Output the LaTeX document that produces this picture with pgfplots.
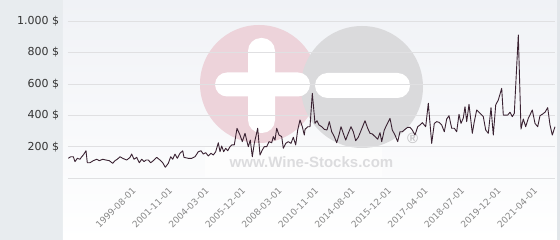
\documentclass[border=0pt]{standalone}
\usepackage{pgfplots}
\pgfplotsset{compat=1.18}
\usepackage{fontspec}
\setmainfont{DejaVu Sans}
\newfontfamily\wmfont{Liberation Sans}
\definecolor{leftbg}{HTML}{E8ECEF}
\definecolor{bgtop}{HTML}{F0F2F6}
\definecolor{bgbot}{HTML}{FFFFFF}
\definecolor{rightbd}{HTML}{E2E6EA}
\definecolor{gridc}{HTML}{E0E0E2}
\definecolor{wmpink}{HTML}{EDD3DA}
\definecolor{wmgray}{HTML}{DADADC}
\definecolor{wmtext}{HTML}{DCDCDE}
\definecolor{linec}{HTML}{3A2232}
\definecolor{ylab}{HTML}{333333}
\definecolor{xlab}{HTML}{888888}
\pgfplotstableread{
x y
68.3 127
70.7 137
73.3 137
75 106
77.3 127
80 121
81.7 137
83.3 148
86 175
87.3 99
90 99
93.3 112
96.7 121
99.3 112
102.7 121
106 116
109.3 112
112.7 95
115 112
117.3 121
120 137
122.7 127
126.7 116
130 133
131.7 154
134 121
136.7 133
139.3 99
141.7 121
144 106
146 116
148.3 116
150.7 99
153.3 112
156.7 133
160 116
162.7 99
165.3 70
168.3 95
170.7 137
172.7 121
175 154
177.3 127
180 159
182.7 175
184 133
188.3 127
191.7 127
195 137
198.3 169
201 175
203.3 154
205.7 163
208.3 142
211 159
213.3 148
215.7 169
218.3 226
220 169
221.7 205
223.7 169
225.7 191
227.7 175
230 201
231.7 212
234.3 212
237 318
240 275
242.3 233
245 286
248.3 201
250.3 243
252.3 137
254.3 222
257.7 318
260 148
262.3 180
264.3 201
266.7 201
269 233
271.7 226
273.3 265
275 243
276.7 318
279 275
281.7 265
283.3 191
285.7 222
288.3 233
291 222
293.3 261
295.7 212
297.7 307
300 371
302.3 328
304.3 275
305 311
307.7 328
310 328
312.3 540
315 349
317 366
319 339
321.7 328
324.3 311
327 307
329.3 360
331.7 296
334.3 265
336.7 226
339 275
341 328
343.3 286
345.7 243
348.3 286
351 328
353.3 296
355.7 239
358.3 261
361 303
365 366
367.7 318
370 286
372.3 282
375 265
377.7 248
380 290
381.7 233
384.3 307
386.7 339
390 381
392.3 307
395 275
397.7 233
400 296
402.3 296
405 311
407.7 324
410 324
412.3 307
415 275
417.7 328
420 339
422.3 354
425.7 328
428.3 477
431.7 222
434.3 349
436.7 360
439 356
441.7 339
444.3 296
446.7 377
449 398
451.7 318
454.3 318
456.7 296
459 407
461 349
463.3 383
465 455
466.7 360
469 470
471 360
472.3 286
474.3 360
476.7 434
479 420
481 407
483.3 392
485.7 307
488.3 286
491 449
493.3 275
495.7 466
498.3 498
501.7 572
503.3 402
507.7 402
510 420
512.3 392
514.3 413
518.3 911
521 313
523.3 377
525.7 328
528.3 381
532.3 434
535 349
537.7 328
540 398
542.3 407
545 420
547.7 449
550 339
552.3 275
555 328
}\wine
\begin{document}
\begin{tikzpicture}
% backgrounds (image px -> (X-68, 178.3-Y))
\fill[leftbg] (-68pt,-61.7pt) rectangle (-5pt,178.3pt);
\shade[top color=bgtop, bottom color=bgbot] (-5pt,-61.7pt) rectangle (489pt,178.3pt);
\fill[rightbd] (489pt,-61.7pt) rectangle (492pt,178.3pt);
% watermark
\begin{scope}[x=1pt,y=-1pt,shift={(-68pt,178.3pt)}]
\fill[white,opacity=0.6] (205,147) rectangle (382,177);
\fill[wmpink] (259,84) circle (59);
\fill[wmgray] (362,87) circle (61);
\fill[white,rounded corners=12pt] (215,72.5) rectangle (310,96.5);
\fill[white,rounded corners=13pt] (248,38) rectangle (275,133);
\fill[white,rounded corners=12.5pt] (315,73) rectangle (410,98);
\node[text=wmtext,font=\wmfont\bfseries\fontsize{15}{17}\selectfont,inner sep=0pt] at (311.5,161.7) {www.Wine-Stocks.com};
\node[text=wmtext!90!black,font=\wmfont\bfseries\fontsize{15}{17}\selectfont,inner sep=0pt] at (412.7,138.5) {®};
\end{scope}
\begin{axis}[
  scale only axis, width=487pt, height=157.3pt,
  xmin=68, xmax=555, ymin=0, ymax=1000,
  axis line style={draw=none},
  major tick length=0pt,
  ymajorgrids, grid style={color=gridc, line width=0.8pt},
  ytick={0,200,400,600,800,1000},
  yticklabels={,200 \$,400 \$,600 \$,800 \$,1.000 \$},
  yticklabel style={font=\fontsize{11}{13}\selectfont, text=ylab, anchor=east, inner sep=0pt, xshift=-8.7pt},
  xtick={123.5,160,196.5,233,269.5,306,342.5,379,415.5,452,488.5,525},
  xticklabels={1999-08-01,2001-11-01,2004-03-01,2005-12-01,2008-03-01,2010-11-01,2014-08-01,2015-12-01,2017-04-01,2018-07-01,2019-12-01,2021-04-01},
  xticklabel style={font=\fontsize{9}{11}\selectfont, text=xlab, rotate=45, anchor=north east, inner sep=0pt, yshift=-11.7pt},
  clip=false,
]
\addplot[linec, line width=0.9pt, line join=round, mark=none] table[x=x,y=y] {\wine};
\end{axis}
\pgfresetboundingbox
\path (-68pt,-61.7pt) rectangle (492pt,178.3pt);
\end{tikzpicture}
\end{document}
